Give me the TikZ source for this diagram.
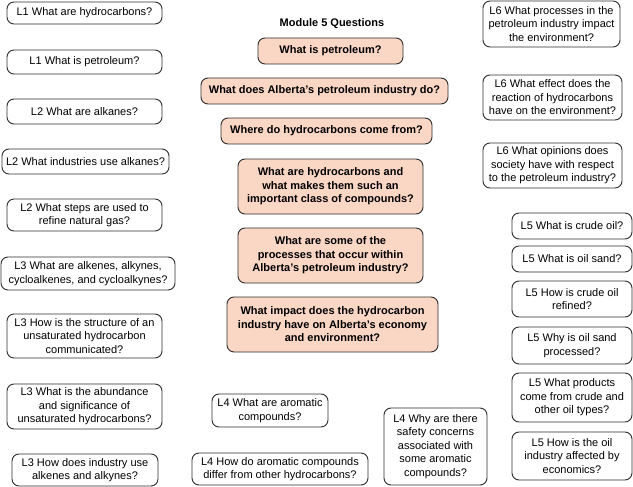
\documentclass[tikz,border=0pt]{standalone}
\usepackage{fontspec}
\setmainfont{Liberation Sans}
\usepackage{tikz}

\definecolor{peach}{RGB}{250,214,196}
\definecolor{edge}{RGB}{45,45,45}

\tikzset{
  qbox/.style={draw=edge, line width=0.9pt, rounded corners=7pt, align=center,
    inner sep=1pt, font=\fontsize{11}{13.5}\selectfont},
  mbox/.style={qbox, fill=peach, font=\fontsize{11}{13.5}\selectfont\bfseries},
}

\begin{document}
\begin{tikzpicture}[x=1pt, y=-1pt]
                \useasboundingbox (0,0) rectangle (633,487);

                % title
                \node[font=\fontsize{11}{13.5}\selectfont\bfseries] (title) at (332,24) {Module 5 Questions};

                % module questions
                \node[mbox, minimum width=145, minimum height=26] (mpet) at (330.5,51) {What is petroleum?};
                \node[mbox, minimum width=247, minimum height=26] (mind) at (324.5,91) {What does Alberta's petroleum industry do?};
                \node[mbox, minimum width=211, minimum height=26] (mfrom) at (326.5,131) {Where do hydrocarbons come from?};
                \node[mbox, minimum width=185, minimum height=55] (mclass) at (330.5,186.5) {What are hydrocarbons and\\what makes them such an\\important class of compounds?};
                \node[mbox, minimum width=185, minimum height=55] (mproc) at (330.5,255.5) {What are some of the\\processes that occur within\\Alberta's petroleum industry?};
                \node[mbox, minimum width=211, minimum height=55] (mimp) at (332.5,324.5) {What impact does the hydrocarbon\\industry have on Alberta's economy\\and environment?};

                % L1 - L3
                \node[qbox, minimum width=155, minimum height=22] (lhc) at (84.5,13) {L1 What are hydrocarbons?};
                \node[qbox, minimum width=155, minimum height=24] (lpet) at (84.5,62) {L1 What is petroleum?};
                \node[qbox, minimum width=155, minimum height=25] (lalk) at (84.5,111.5) {L2 What are alkanes?};
                \node[qbox, minimum width=167, minimum height=25] (luse) at (85.5,161.5) {L2 What industries use alkanes?};
                \node[qbox, minimum width=155, minimum height=32] (lgas) at (84.5,215) {L2 What steps are used to\\refine natural gas?};
                \node[qbox, minimum width=174, minimum height=33] (lene) at (88,273.5) {L3 What are alkenes, alkynes,\\cycloalkenes, and cycloalkynes?};
                \node[qbox, minimum width=155, minimum height=44] (lstr) at (84.5,336) {L3 How is the structure of an\\unsaturated hydrocarbon\\communicated?};
                \node[qbox, minimum width=155, minimum height=45] (labu) at (84.5,406.5) {L3 What is the abundance\\and significance of\\unsaturated hydrocarbons?};
                \node[qbox, minimum width=146, minimum height=32] (lind) at (85,470) {L3 How does industry use\\alkenes and alkynes?};

                % L4
                \node[qbox, minimum width=116, minimum height=33] (laro) at (270,410.5) {L4 What are aromatic\\compounds?};
                \node[qbox, minimum width=176, minimum height=32] (ldif) at (280,469) {L4 How do aromatic compounds\\differ from other hydrocarbons?};
                \node[qbox, minimum width=103, minimum height=77] (lsaf) at (435.5,446.5) {L4 Why are there\\safety concerns\\associated with\\some aromatic\\compounds?};

                % L6
                \node[qbox, minimum width=137, minimum height=46] (lenv) at (551.5,24) {L6 What processes in the\\petroleum industry impact\\the environment?};
                \node[qbox, minimum width=139, minimum height=45] (leff) at (552.5,97.5) {L6 What effect does the\\reaction of hydrocarbons\\have on the environment?};
                \node[qbox, minimum width=139, minimum height=45] (lsoc) at (552.5,165.5) {L6 What opinions does\\society have with respect\\to the petroleum industry?};

                % L5
                \node[qbox, minimum width=120, minimum height=26] (lcru) at (572,226) {L5 What is crude oil?};
                \node[qbox, minimum width=120, minimum height=26] (lsan) at (572,259) {L5 What is oil sand?};
                \node[qbox, minimum width=120, minimum height=36] (lref) at (572,299) {L5 How is crude oil\\refined?};
                \node[qbox, minimum width=120, minimum height=37] (lwhy) at (572,345.5) {L5 Why is oil sand\\processed?};
                \node[qbox, minimum width=120, minimum height=49] (lprd) at (572,397.5) {L5 What products\\come from crude and\\other oil types?};
                \node[qbox, minimum width=120, minimum height=48] (leco) at (572,456) {L5 How is the oil\\industry affected by\\economics?};
            \end{tikzpicture}
\end{document}
